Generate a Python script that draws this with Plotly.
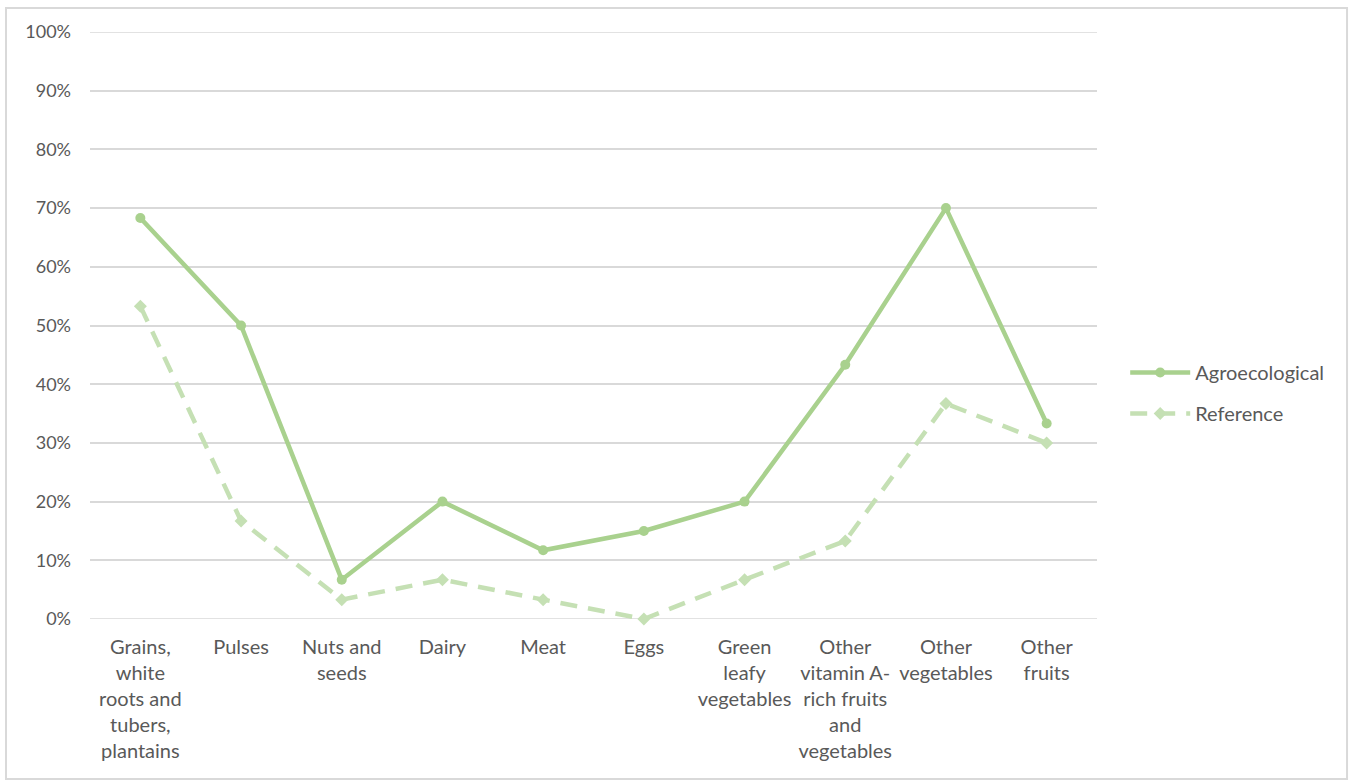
import plotly.graph_objects as go

categories = [
    "Grains,<br>white<br>roots and<br>tubers,<br>plantains",
    "Pulses",
    "Nuts and<br>seeds",
    "Dairy",
    "Meat",
    "Eggs",
    "Green<br>leafy<br>vegetables",
    "Other<br>vitamin A-<br>rich fruits<br>and<br>vegetables",
    "Other<br>vegetables",
    "Other<br>fruits",
]
agroecological = [0.683, 0.50, 0.067, 0.20, 0.117, 0.15, 0.20, 0.433, 0.70, 0.333]
reference = [0.533, 0.167, 0.033, 0.067, 0.033, 0.0, 0.067, 0.133, 0.367, 0.30]

y_ticks = [i / 10 for i in range(11)]

TEXT = "#595959"
GRID = "#D9D9D9"
FONT = "Lato"

x = list(range(len(categories)))

fig = go.Figure()
fig.add_trace(go.Scatter(
    x=x, y=agroecological, name="Agroecological", mode="lines+markers",
    line=dict(color="#A9D18E", width=4.5),
    marker=dict(symbol="circle", size=10, color="#A9D18E"),
    cliponaxis=False, legendgroup="a",
))
fig.add_trace(go.Scatter(
    x=x, y=reference, name="Reference", mode="lines+markers",
    line=dict(color="#C5E0B4", width=4.5, dash="17px,11px"),
    marker=dict(symbol="diamond", size=10, color="#C5E0B4"),
    cliponaxis=False, legendgroup="b",
))

# gridlines at the ends of the value axis (plotly skips those at the range edges)
for yv in (y_ticks[0], y_ticks[-1]):
    fig.add_shape(type="line", xref="paper", yref="y", x0=0, x1=1, y0=yv, y1=yv,
                  line=dict(color=GRID, width=1.5), layer="below")

# outer chart border
fig.add_shape(type="rect", xref="paper", yref="paper",
              x0=-0.0834, x1=1.2483, y0=-0.2726, y1=1.0409,
              line=dict(color="#D9D9D9", width=2), fillcolor="rgba(0,0,0,0)")

fig.update_layout(
    width=1351, height=781,
    margin=dict(l=90, r=254, t=32, b=162),
    paper_bgcolor="white", plot_bgcolor="white",
    font=dict(family=FONT, color=TEXT, size=18),
    showlegend=True,
    legend=dict(x=1.028, y=0.385, xanchor="left", yanchor="middle",
                font=dict(size=20, color=TEXT, family=FONT),
                traceorder="grouped", tracegroupgap=12, itemwidth=60,
                bgcolor="rgba(0,0,0,0)"),
    xaxis=dict(
        tickmode="array", tickvals=x, ticktext=categories,
        range=[-0.5, len(categories) - 0.5],
        showgrid=False, zeroline=False, showline=False,
        tickfont=dict(size=20, color=TEXT, family=FONT),
        ticks="", ticklabelstandoff=14,
    ),
    yaxis=dict(
        range=[0, 1], tickmode="array", tickvals=y_ticks,
        ticktext=[f"{int(round(v * 100))}%" for v in y_ticks],
        showgrid=True, gridcolor=GRID, gridwidth=1.5,
        zeroline=False, showline=False,
        tickfont=dict(size=18, color=TEXT, family=FONT),
        ticks="", ticklabelstandoff=18,
    ),
)

fig.write_html("out.html")
